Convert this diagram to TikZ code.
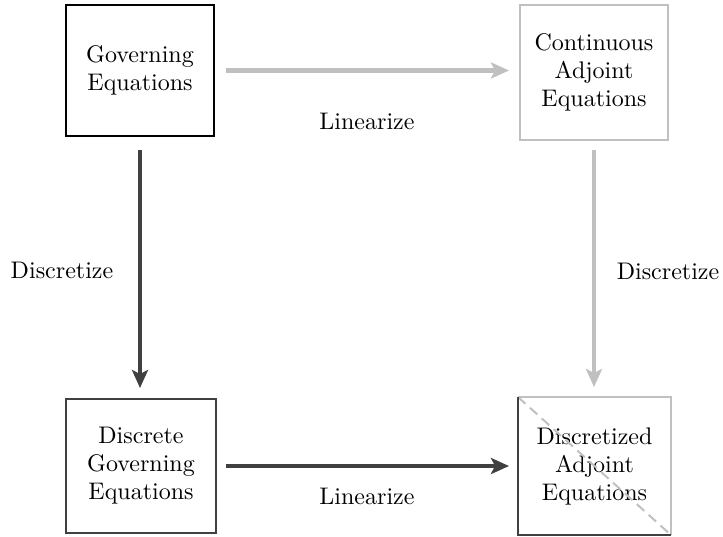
\documentclass[tikz,border=0pt]{standalone}
\usepackage{fontspec}
\setmainfont{lmroman10-regular}[Extension=.otf]
\usetikzlibrary{arrows.meta}
\definecolor{lightg}{HTML}{C0C0C0}
\definecolor{darkg}{HTML}{404040}
\tikzset{
  box/.style={line width=2pt, minimum width=#1, inner sep=0pt, align=center, font=\fontsize{24}{28}\selectfont},
  lbl/.style={font=\fontsize{24}{28}\selectfont, inner sep=0pt},
  arr/.style={line width=4.5pt, -{Stealth[length=18pt,width=16pt,inset=4pt]}},
}
\begin{document}
\begin{tikzpicture}[x=1pt,y=-1pt]
\useasboundingbox (0,0) rectangle (723,536);
\node[box=148pt, minimum height=131pt, draw=black] (ge) at (140,70.5) {Governing\\Equations};
\node[box=148pt, minimum height=135pt, draw=lightg] (ca) at (594,72.5) {Continuous\\Adjoint\\Equations};
\node[box=150pt, minimum height=134pt, draw=darkg] (dg) at (141,466) {Discrete\\Governing\\Equations};
\node[box=151pt, minimum height=136pt] (da) at (594.5,466) {Discretized\\Adjoint\\Equations};
\draw[line width=2pt, lightg, dash pattern=on 10pt off 6pt] (da.north west) -- (da.south east);
\draw[line width=2pt, lightg] (da.north west) -- (da.north east) -- (da.south east);
\draw[line width=2pt, darkg] (da.north west) -- (da.south west) -- (da.south east);
\draw[arr, lightg, shorten <=11pt, shorten >=10pt] (ge.east) -- (ge.east -| ca.west);
\draw[arr, darkg, shorten <=13pt, shorten >=10pt] (ge.south) -- (ge.south |- dg.north);
\draw[arr, lightg, shorten <=9pt, shorten >=10pt] (ca.south) -- (ca.south |- da.north);
\draw[arr, darkg, shorten <=9pt, shorten >=9pt] (dg.east) -- (dg.east -| da.west);
\node[lbl] (l1) at (367,121) {Linearize};
\node[lbl] (l2) at (367,496) {Linearize};
\node[lbl] (d1) at (62,270) {Discretize};
\node[lbl] (d2) at (668,271) {Discretize};
\end{tikzpicture}
\end{document}
